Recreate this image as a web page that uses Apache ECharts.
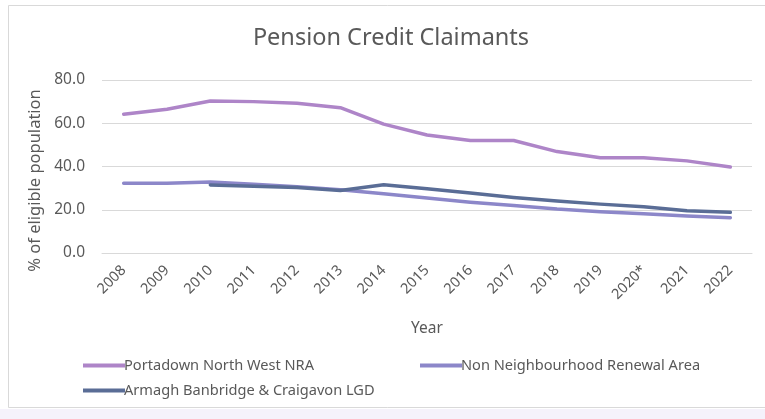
<!DOCTYPE html>
<html><head><meta charset="utf-8">
<script src="https://cdn.jsdelivr.net/npm/echarts@6/dist/echarts.min.js"></script>
<style>html,body{margin:0;padding:0;background:#fff}#c{width:765px;height:419px}</style>
</head><body><div id="c"></div>
<script>
const years = ['2008','2009','2010','2011','2012','2013','2014','2015','2016','2017','2018','2019','2020*','2021','2022'];
const portadown = [64.2, 66.5, 70.3, 70.0, 69.2, 67.2, 59.6, 54.6, 52.0, 52.0, 46.9, 44.0, 44.0, 42.6, 39.8];
const nonNRA = [32.3, 32.3, 32.8, 31.8, 30.6, 29.3, 27.4, 25.4, 23.5, 22.0, 20.3, 19.1, 18.1, 17.1, 16.3];
const abcLGD = [null, null, 31.5, 30.9, 30.3, 28.9, 31.6, 29.7, 27.7, 25.7, 24.1, 22.6, 21.4, 19.5, 18.8];
const yTicks = [0, 20, 40, 60, 80];

const FONT = 'Noto Sans';
const TXT = '#595959';
const chart = echarts.init(document.getElementById('c'), null, {renderer: 'canvas'});
const legendText = {fontFamily: FONT, fontSize: 14.6, color: TXT, padding: [0, 0, 0, -6]};
chart.setOption({
  animation: false,
  backgroundColor: '#fff',
  textStyle: {fontFamily: FONT},
  title: {
    text: 'Pension Credit Claimants', left: 386, top: 21, textAlign: 'center',
    textStyle: {fontFamily: FONT, fontSize: 23.5, fontWeight: 'normal', color: TXT}
  },
  graphic: [
    {type: 'rect', shape: {x: 8.5, y: 5.5, width: 770, height: 402}, style: {fill: 'none', stroke: '#d9d9d9', lineWidth: 1}, z: -1},
    {type: 'rect', shape: {x: 0, y: 409, width: 765, height: 10}, style: {fill: '#f5f2fb'}, z: -1}
  ],
  grid: {left: 102, right: 13, top: 80, bottom: 166, containLabel: false},
  legend: [
    {data: ['Portadown North West NRA'], left: 78, top: 353, icon: 'rect', itemWidth: 42, itemHeight: 4, textStyle: legendText},
    {data: ['Non Neighbourhood Renewal Area'], left: 415, top: 353, icon: 'rect', itemWidth: 42, itemHeight: 4, textStyle: legendText},
    {data: ['Armagh Banbridge & Craigavon LGD'], left: 78, top: 378, icon: 'rect', itemWidth: 42, itemHeight: 4, textStyle: legendText}
  ],
  xAxis: {
    type: 'category', data: years, boundaryGap: true,
    name: 'Year', nameLocation: 'middle', nameGap: 68,
    nameTextStyle: {fontFamily: FONT, fontSize: 15.5, color: TXT},
    axisLine: {lineStyle: {color: '#d9d9d9'}},
    axisTick: {show: false},
    axisLabel: {rotate: 45, fontFamily: FONT, fontSize: 14.5, color: TXT, margin: 15, interval: 0}
  },
  yAxis: {
    type: 'value', min: yTicks[0], max: yTicks[yTicks.length - 1], interval: 20,
    name: '% of eligible population', nameLocation: 'middle', nameGap: 58,
    nameTextStyle: {fontFamily: FONT, fontSize: 16.5, color: TXT, padding: [0, 0, 0, -28]},
    axisLine: {show: false}, axisTick: {show: false},
    splitLine: {lineStyle: {color: '#d9d9d9', width: 1}},
    axisLabel: {formatter: v => v.toFixed(1), fontFamily: FONT, fontSize: 15.5, color: TXT, margin: 17}
  },
  series: [
    {name: 'Portadown North West NRA', type: 'line', data: portadown, showSymbol: false, symbol: 'none',
     color: '#ae85c8', lineStyle: {width: 3.5, color: '#ae85c8', cap: 'round', join: 'round'}},
    {name: 'Non Neighbourhood Renewal Area', type: 'line', data: nonNRA, showSymbol: false, symbol: 'none',
     color: '#8c87c9', lineStyle: {width: 3.5, color: '#8c87c9', cap: 'round', join: 'round'}},
    {name: 'Armagh Banbridge & Craigavon LGD', type: 'line', data: abcLGD, showSymbol: false, symbol: 'none',
     color: '#5a6d96', lineStyle: {width: 3.5, color: '#5a6d96', cap: 'round', join: 'round'}}
  ]
});
</script></body></html>
